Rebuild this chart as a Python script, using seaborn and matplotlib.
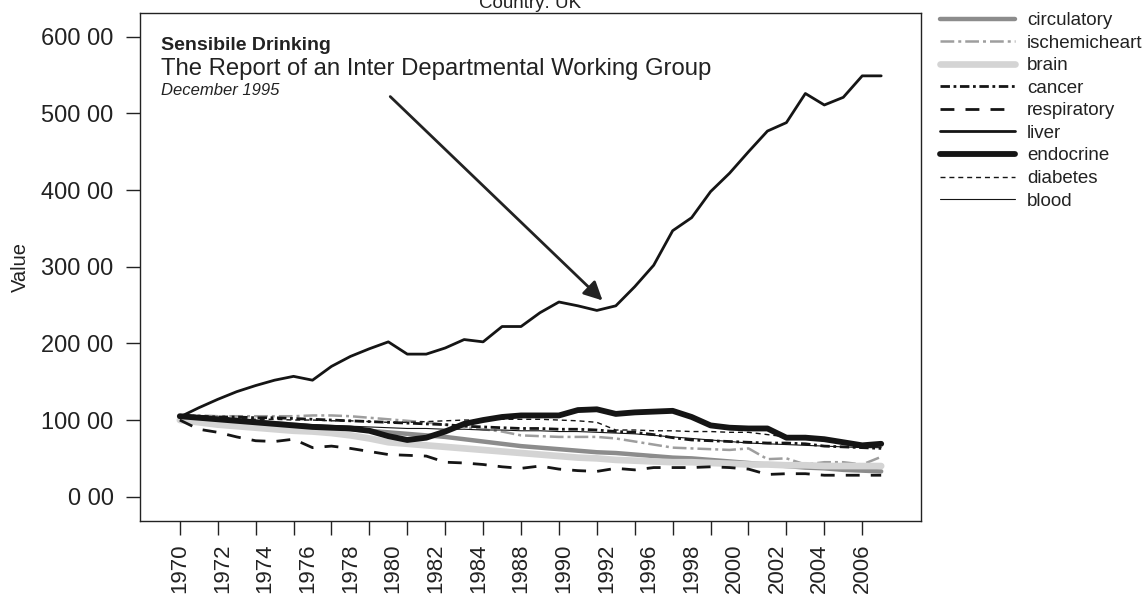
import numpy as np
import pandas as pd
import matplotlib
matplotlib.use("Agg")
import matplotlib.pyplot as plt
import matplotlib.ticker as mticker
import seaborn as sns

# ---------------------------------------------------------------------------
# DATA  (index values, 1970-2007)
# ---------------------------------------------------------------------------
YEARS = list(range(1970, 2008))

circulatory = [105, 103, 101, 100, 98, 96, 94, 92, 90, 88, 86, 84, 82, 80, 78, 75, 72, 69, 66,
               64, 62, 60, 58, 57, 55, 53, 51, 50, 48, 46, 44, 42, 40, 38, 37, 35, 34, 33]
ischemicheart = [106, 106, 105, 105, 105, 105, 105, 106, 106, 105, 103, 101, 99, 97, 94, 91, 88, 85, 80,
                 79, 78, 78, 78, 76, 72, 68, 64, 63, 62, 61, 63, 49, 50, 42, 45, 45, 42, 52]
brain = [100, 97, 94, 92, 90, 88, 86, 85, 83, 80, 76, 71, 69, 67, 65, 63, 61, 59, 57,
         55, 53, 51, 50, 48, 47, 46, 45, 45, 44, 43, 42, 42, 41, 41, 40, 40, 40, 40]
cancer = [106, 105, 104, 104, 103, 103, 102, 101, 100, 99, 98, 97, 96, 95, 94, 92, 91, 90, 89,
          89, 88, 88, 87, 85, 84, 81, 77, 74, 73, 72, 71, 70, 70, 69, 66, 65, 64, 63]
respiratory = [100, 88, 84, 78, 73, 72, 75, 64, 66, 63, 59, 55, 54, 53, 45, 44, 42, 39, 37,
               40, 36, 34, 33, 37, 35, 38, 38, 38, 39, 38, 36, 29, 30, 30, 28, 28, 28, 28]
liver = [104, 116, 127, 137, 145, 152, 157, 152, 170, 183, 193, 202, 186, 186, 194, 205, 202, 222, 222,
         240, 254, 249, 243, 249, 274, 302, 347, 364, 398, 422, 450, 477, 488, 526, 511, 521, 549, 549]
endocrine = [105, 103, 101, 99, 97, 95, 93, 91, 90, 89, 86, 79, 74, 77, 85, 95, 100, 104, 106,
             106, 106, 113, 114, 108, 110, 111, 112, 104, 93, 90, 89, 89, 77, 77, 75, 71, 67, 69]
diabetes = [106, 104, 103, 102, 101, 101, 100, 100, 99, 99, 98, 97, 97, 98, 99, 100, 100, 101, 101,
            101, 100, 99, 97, 87, 87, 86, 86, 85, 85, 84, 84, 81, 78, 76, 73, 70, 67, 66]
blood = [104, 102, 100, 99, 97, 96, 95, 94, 93, 92, 91, 90, 89, 89, 88, 88, 87, 87, 86,
         86, 85, 85, 84, 83, 82, 80, 78, 76, 74, 72, 70, 69, 68, 67, 66, 65, 64, 64]

SERIES = ["circulatory", "ischemicheart", "brain", "cancer", "respiratory",
          "liver", "endocrine", "diabetes", "blood"]
VALUES = [circulatory, ischemicheart, brain, cancer, respiratory,
          liver, endocrine, diabetes, blood]

# tick marks every second year, labels as printed on the original axis
TICK_YEARS = list(range(1970, 2007, 2))
TICK_LABELS = ["1970", "1972", "1974", "1976", "1978", "1980", "1982", "1984", "1988",
               "1990", "1992", "1996", "1998", "2000", "2002", "2004", "2006"]
Y_TICKS = [0, 100, 200, 300, 400, 500, 600]

# ---------------------------------------------------------------------------
# STYLE
# ---------------------------------------------------------------------------
COLORS = {"circulatory": "#8c8c8c", "ischemicheart": "#9e9e9e", "brain": "#d4d4d4",
          "cancer": "#151515", "respiratory": "#151515", "liver": "#151515",
          "endocrine": "#151515", "diabetes": "#151515", "blood": "#151515"}
WIDTHS = {"circulatory": 3.2, "ischemicheart": 1.8, "brain": 4.8, "cancer": 2.0,
          "respiratory": 2.0, "liver": 2.0, "endocrine": 4.2, "diabetes": 1.0, "blood": 0.8}
DASHES = {"circulatory": "", "ischemicheart": (5.5, 1.6, 1.2, 1.6), "brain": "",
          "cancer": (3.4, 1.3, 1.0, 1.3), "respiratory": (5.0, 4.0), "liver": "",
          "endocrine": "", "diabetes": (3.6, 2.8), "blood": ""}
INK = "#222222"

sns.set_theme(style="white")
plt.rcParams["font.family"] = ["Liberation Sans", "DejaVu Sans"]

df = pd.DataFrame({
    "year": YEARS * len(SERIES),
    "value": [v for vals in VALUES for v in vals],
    "series": [s for s in SERIES for _ in YEARS],
})

fig = plt.figure(figsize=(11.44, 5.95), dpi=100)
ax = fig.add_axes([140 / 1144, 1 - 521 / 595, 781 / 1144, 508 / 595])

sns.lineplot(data=df, x="year", y="value", hue="series", style="series", size="series",
             hue_order=SERIES, style_order=SERIES, size_order=SERIES,
             palette=COLORS, dashes=DASHES, sizes=WIDTHS, legend=False, ax=ax)

ax.set_xlim(1967.9, 2009.1)
ax.set_ylim(-31.7, 631)

# x axis: small tick marks every 2 years, labels spread evenly across them
ax.xaxis.remove_overlapping_locs = False
ax.xaxis.set_minor_locator(mticker.FixedLocator(TICK_YEARS))
ax.xaxis.set_major_locator(mticker.FixedLocator(np.linspace(1970, 2006, len(TICK_LABELS))))
ax.xaxis.set_major_formatter(mticker.FixedFormatter(TICK_LABELS))
ax.tick_params(axis="x", which="minor", bottom=True, length=10, width=1, color=INK)
ax.tick_params(axis="x", which="major", bottom=True, length=0, pad=16,
               labelsize=16, labelrotation=90, labelcolor=INK)
for lbl in ax.get_xticklabels():
    lbl.set_va("top")

ax.yaxis.set_major_locator(mticker.FixedLocator(Y_TICKS))
ax.yaxis.set_major_formatter(mticker.FuncFormatter(lambda v, p: f"{int(v)} 00"))
ax.tick_params(axis="y", left=True, length=10, width=1, pad=9,
               labelsize=17, color=INK, labelcolor=INK)

for sp in ax.spines.values():
    sp.set_color(INK)
    sp.set_linewidth(1.0)

ax.set_xlabel("")
ax.set_ylabel("Value", fontsize=14.5, color=INK, labelpad=8)

# annotation block
ax.text(0.027, 0.937, "Sensibile Drinking", transform=ax.transAxes, fontsize=14,
        fontweight="bold", va="center", ha="left", color=INK)
ax.text(0.027, 0.890, "The Report of an Inter Departmental Working Group",
        transform=ax.transAxes, fontsize=17.2, va="center", ha="left", color=INK)
ax.text(0.027, 0.847, "December 1995", transform=ax.transAxes, fontsize=12,
        style="italic", va="center", ha="left", color=INK)
ax.annotate("", xy=(1992.3, 256), xytext=(1981.1, 522),
            arrowprops=dict(arrowstyle="-|>", color=INK, lw=2,
                            mutation_scale=28, shrinkA=0, shrinkB=0))

fig.text(530 / 1144, 1 - 8 / 595, "Country: UK", ha="center", va="baseline",
         fontsize=13.5, color=INK)

leg = ax.legend(ax.get_lines()[:len(SERIES)], SERIES, loc="upper left",
                bbox_to_anchor=(940 / 1144, 1 - 12 / 595), bbox_transform=fig.transFigure,
                frameon=False, fontsize=13.5, handlelength=4.0, handletextpad=0.65,
                labelspacing=0.29, borderpad=0, borderaxespad=0)
for t in leg.get_texts():
    t.set_color(INK)

fig.savefig("out.png", dpi=100)
